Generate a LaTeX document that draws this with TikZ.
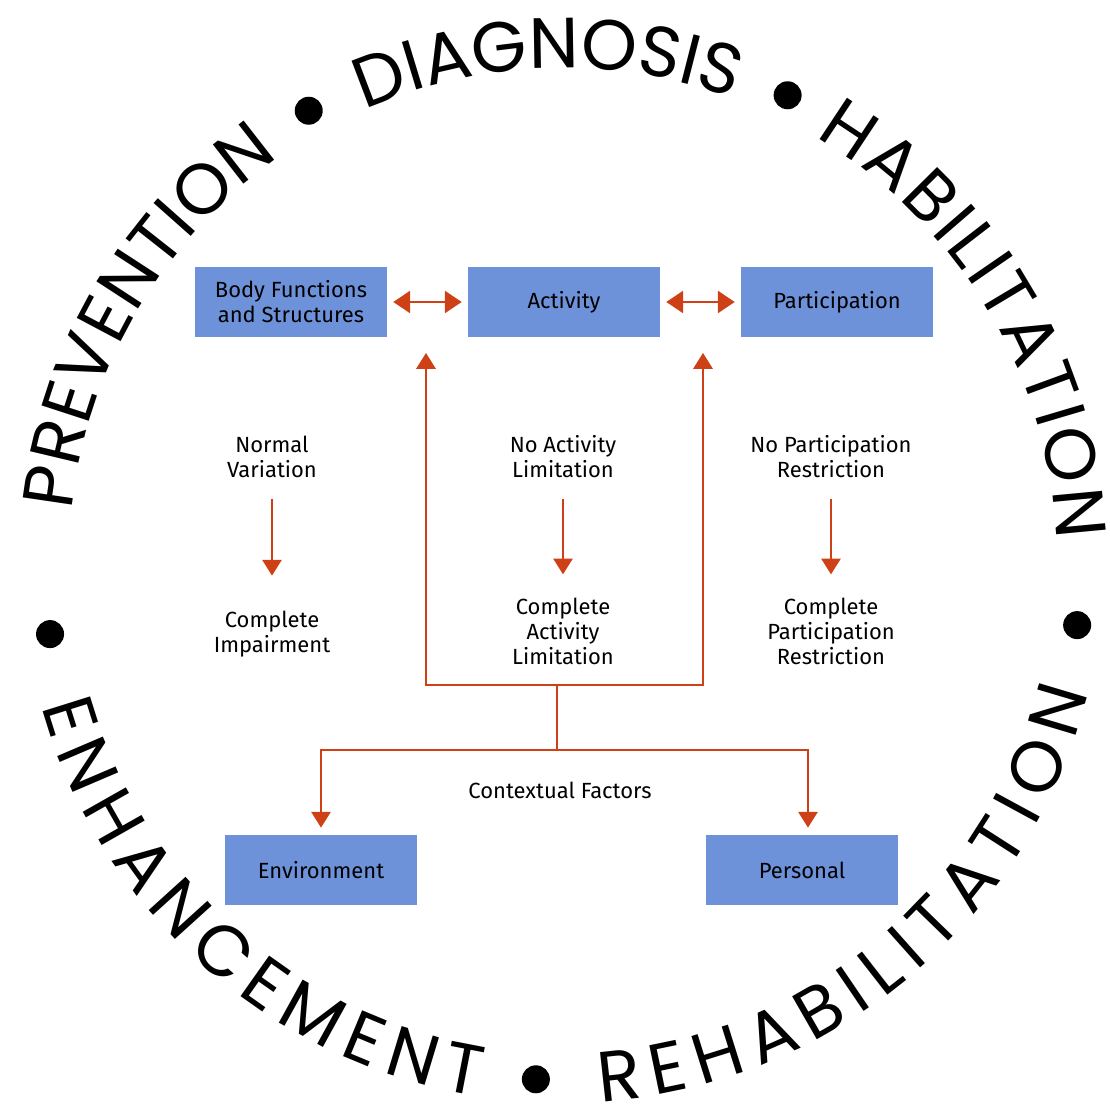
\documentclass[tikz,border=0pt]{standalone}
\usepackage{fontspec}
\setmainfont{Fira Sans}
\newfontfamily\ringfamily{Poppins}
\usetikzlibrary{arrows.meta,decorations.text}
\definecolor{boxblue}{RGB}{110,146,218}
\definecolor{arrowred}{RGB}{206,64,22}
\newcommand\ringfont{\ringfamily\fontsize{40.5}{42}\selectfont}

\begin{document}
\begin{tikzpicture}[x=0.02cm,y=0.02cm,font=\fontsize{12.5}{14.2}\selectfont,
   box/.style={fill=boxblue,minimum width=3.84cm,minimum height=1.4cm,inner sep=0pt,align=center},
   lbl/.style={align=center,inner sep=0pt},
   arr/.style={draw=arrowred,line width=1.1pt},
   tip/.style={-{Triangle[length=9pt,width=11pt]}},
   both/.style={{Triangle[length=9.5pt,width=12.5pt]}-{Triangle[length=9.5pt,width=12.5pt]},
      shorten <=0.12cm,shorten >=0.12cm},
   ring text/.style={decorate,decoration={text along path,text align=fit to path,
      text={|\ringfont|#1}}}]
\useasboundingbox (0,0) rectangle (1110,-1104);

% outer ring
\coordinate (c) at (563,-562);
\path[ring text=PREVENTION] ([shift={(174:494)}]c) arc[start angle=174,end angle=125,radius=494];
\path[ring text=DIAGNOSIS] ([shift={(113.7:494)}]c) arc[start angle=113.7,end angle=70.5,radius=494];
\path[ring text=HABILITATION] ([shift={(59.3:494)}]c) arc[start angle=59.3,end angle=2.5,radius=494];
\path[ring text=ENHANCEMENT] ([shift={(195.5:541)}]c) arc[start angle=195.5,end angle=261,radius=541];
\path[ring text=REHABILITATION] ([shift={(274:541)}]c) arc[start angle=274,end angle=346,radius=541];
\foreach \a in {119.4,64.3,-7,267,188}
   \fill ([shift={(\a:518)}]c) circle[radius=14];

% components
\node[box] (body) at (291,-302) {Body Functions\\and Structures};
\node[box] (act) at (564,-302) {Activity};
\node[box] (part) at (837,-302) {Participation};
\node[box] (env) at (321,-870) {Environment};
\node[box] (pers) at (802,-870) {Personal};

\node[lbl] (normal) at (272,-457) {Normal\\Variation};
\node[lbl] (impair) at (272,-634) {Complete\\Impairment};
\node[lbl] (noact) at (563,-457) {No Activity\\Limitation};
\node[lbl] (fullact) at (563,-631) {Complete\\Activity\\Limitation};
\node[lbl] (nopart) at (831,-457) {No Participation\\Restriction};
\node[lbl] (fullpart) at (831,-631) {Complete\\Participation\\Restriction};
\node[lbl] (ctx) at (560,-790) {Contextual Factors};

\draw[arr,both] (body) -- (act);
\draw[arr,both] (act) -- (part);

\draw[arr,tip,shorten <=0.41cm,shorten >=0.7cm] (normal) -- (impair);
\draw[arr,tip,shorten <=0.41cm,shorten >=0.46cm] (noact) -- (fullact);
\draw[arr,tip,shorten <=0.41cm,shorten >=0.46cm] (nopart) -- (fullpart);

\coordinate (hub) at (557,-685);
\coordinate (fork) at (557,-750);
\coordinate (upL) at (426,-353);
\coordinate (upR) at (703,-353);
\draw[arr,tip] (hub) -| (upL);
\draw[arr,tip] (hub) -| (upR);
\draw[arr] (hub) -- (fork);
\draw[arr,tip,shorten >=0.14cm] (fork) -| (env);
\draw[arr,tip,shorten >=0.14cm] (fork) -| ([xshift=0.12cm]pers.north);
\end{tikzpicture}
\end{document}
